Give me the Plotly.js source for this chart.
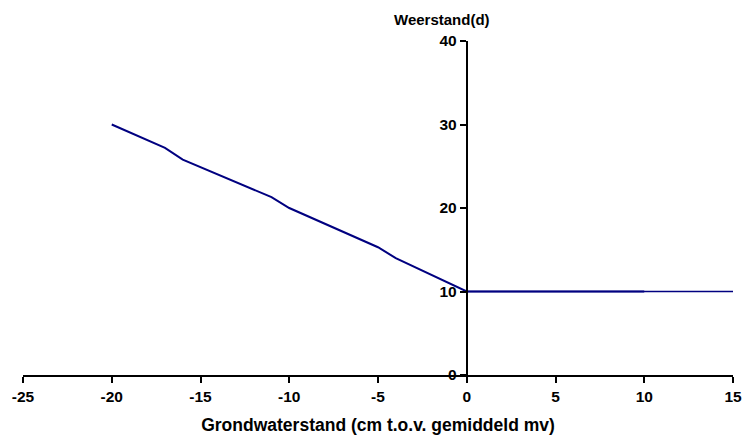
<!DOCTYPE html>
<html>
<head>
<meta charset="utf-8">
<script src="https://cdn.plot.ly/plotly-3.0.1.min.js"></script>
<style>html,body{margin:0;padding:0;background:#fff;}#chart{width:747px;height:435px;}</style>
</head>
<body>
<div id="chart"></div>
<script>
// Grondwaterstand (cm t.o.v. gemiddeld mv) vs Weerstand (d)
var grondwaterstand = [-20, -17, -16, -11, -10, -5, -4, 0, 10];
var weerstand       = [30, 27.2, 25.8, 21.3, 20, 15.3, 14, 10, 10];
var vlakX = [0, 15];
var vlakY = [10, 10];
var xTicks = [-25, -20, -15, -10, -5, 0, 5, 10, 15];
var yTicks = [0, 10, 20, 30, 40];

var fam = 'Liberation Sans, Arial, sans-serif';

var traces = [
  {x: vlakX, y: vlakY, mode: 'lines', line: {color: '#000080', width: 1.3}, hoverinfo: 'skip', showlegend: false},
  {x: grondwaterstand, y: weerstand, mode: 'lines', line: {color: '#000080', width: 2}, showlegend: false}
];

var layout = {
  width: 747, height: 435,
  margin: {l: 23, r: 14, t: 41, b: 60},
  paper_bgcolor: '#fff', plot_bgcolor: '#fff',
  font: {family: fam, size: 15, color: '#000'},
  showlegend: false,
  xaxis: {
    range: [-25, 15], tickvals: xTicks, ticktext: xTicks.map(function (v) { return '<b>' + v + '</b>'; }),
    showgrid: false, zeroline: false, showline: true, linecolor: '#000', linewidth: 2,
    ticks: 'outside', ticklen: 6, tickwidth: 2, tickcolor: '#000',
    tickfont: {family: fam, size: 15.5, color: '#000'},
    title: {text: '<b>Grondwaterstand (cm t.o.v. gemiddeld mv)</b>', font: {family: fam, size: 17.5, color: '#000'}, standoff: 15},
    fixedrange: true
  },
  yaxis: {
    range: [0, 40], tickvals: yTicks, ticktext: yTicks.map(function (v) { return '<b>' + v + '</b>'; }),
    anchor: 'free', position: 0.625,
    showgrid: false, zeroline: false, showline: true, linecolor: '#000', linewidth: 2,
    ticks: 'outside', ticklen: 6, tickwidth: 2, tickcolor: '#000',
    tickfont: {family: fam, size: 15.5, color: '#000'},
    fixedrange: true
  },
  annotations: [{
    text: '<b>Weerstand(d)</b>', xref: 'x', yref: 'paper', x: -1.4, y: 1,
    xanchor: 'center', yanchor: 'bottom', yshift: 11, showarrow: false,
    font: {family: fam, size: 15, color: '#000'}
  }]
};

Plotly.newPlot('chart', traces, layout, {displayModeBar: false, staticPlot: true});
</script>
</body>
</html>
